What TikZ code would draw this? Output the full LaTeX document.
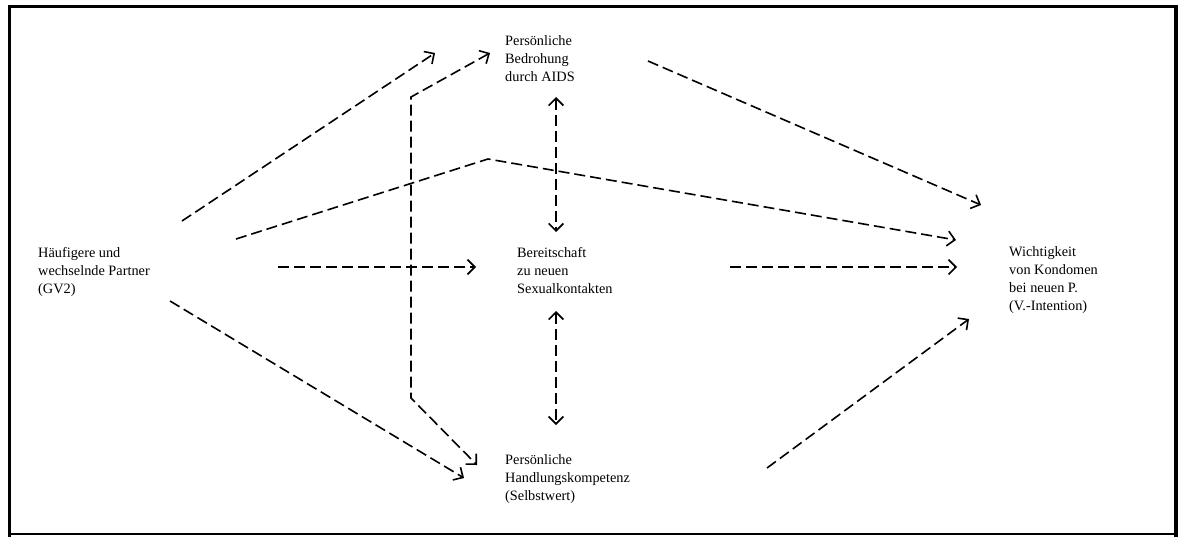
\documentclass[tikz,border=0pt]{standalone}
\usepackage{fontspec}
\setmainfont{Liberation Serif}
\usetikzlibrary{arrows.meta}
\begin{document}
\begin{tikzpicture}[x=1pt,y=-1pt,
  lbl/.style={anchor=north west,inner sep=0pt,align=left,font=\fontsize{14.3}{18}\selectfont},
  conn/.style={line width=1.6pt,dash pattern=on 11pt off 5pt,-{Straight Barb[angle=90:10.5pt]}},
  both/.style={conn,{Straight Barb[angle=90:10.5pt]}-{Straight Barb[angle=90:10.5pt]}},
  frame/.style={line cap=rect}]
\useasboundingbox (0,0) rectangle (1184,536);
% frame
\draw[frame,line width=3pt] (9.5,536) -- (9.5,6.5) -- (1176,6.5);
\draw[frame,line width=4pt] (1176,6.5) -- (1176,536);
\draw[line width=1.2pt] (9.5,534) -- (1176,534);
% nodes
\node[lbl] (gv) at (38,247) {Häufigere und\\wechselnde Partner\\(GV2)};
\node[lbl] (bed) at (505,35.5) {Persönliche\\Bedrohung\\durch AIDS};
\node[lbl] (ber) at (517,247.5) {Bereitschaft\\zu neuen\\Sexualkontakten};
\node[lbl] (hand) at (505,454.5) {Persönliche\\Handlungskompetenz\\(Selbstwert)};
\node[lbl] (wich) at (1009,246.5) {Wichtigkeit\\von Kondomen\\bei neuen P.\\(V.-Intention)};
% endpoints
\coordinate (gvA) at (182,221);
\coordinate (bedA) at (435,53);
\coordinate (gvB) at (236,239);
\coordinate (kinkB) at (488,159);
\coordinate (wichB) at (956,240);
\coordinate (gvC) at (278,267);
\coordinate (berC) at (476,267);
\coordinate (gvD) at (170,301);
\coordinate (handD) at (464,478);
\coordinate (bedE) at (490,53);
\coordinate (k1E) at (411,97);
\coordinate (k2E) at (411,398);
\coordinate (handE) at (477,465);
\coordinate (bedF) at (648,61);
\coordinate (wichF) at (981,205);
\coordinate (berG) at (730,267);
\coordinate (wichG) at (957,267);
\coordinate (handH) at (767,468);
\coordinate (wichH) at (969,319);
\coordinate (bedI) at (556,97);
\coordinate (berI) at (556,232);
\coordinate (berJ) at (556,311);
\coordinate (handJ) at (556,425);
% connectors
\draw[conn] (gvA) -- (bedA);
\draw[conn] (gvB) -- (kinkB) -- (wichB);
\draw[conn] (gvC) -- (berC);
\draw[conn] (gvD) -- (handD);
\draw[both] (bedE) -- (k1E) -- (k2E) -- (handE);
\draw[conn] (bedF) -- (wichF);
\draw[conn] (berG) -- (wichG);
\draw[conn] (handH) -- (wichH);
\draw[both] (bedI) -- (berI);
\draw[both] (berJ) -- (handJ);
\end{tikzpicture}
\end{document}
